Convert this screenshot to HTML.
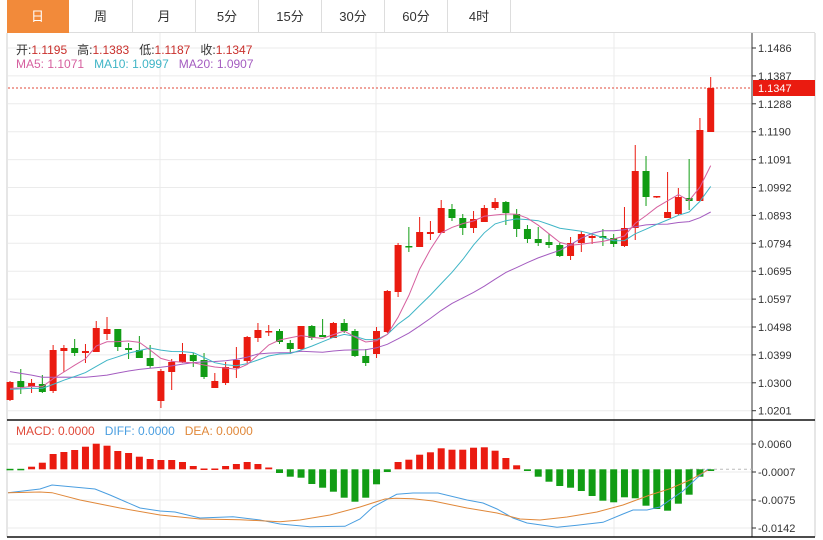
<!DOCTYPE html>
<html><head><meta charset="utf-8">
<style>
html,body{margin:0;padding:0;background:#fff;width:823px;height:540px;overflow:hidden;font-family:"Liberation Sans","Noto Sans CJK SC",sans-serif;}
#wrap{position:relative;width:823px;height:540px;}
.tab{position:absolute;top:0;height:33px;line-height:33px;text-align:center;font-size:13px;color:#333;border-right:1px solid #ddd;border-bottom:1px solid #ddd;box-sizing:border-box;}
.info{position:absolute;left:16px;font-size:12px;white-space:nowrap;}
</style></head><body><div id="wrap">
<div class="tab" style="left:7px;width:62px;background:#f28a3a;color:#fff;border-color:#f28a3a">日</div>
<div class="tab" style="left:69px;width:64px">周</div>
<div class="tab" style="left:133px;width:63px">月</div>
<div class="tab" style="left:196px;width:63px">5分</div>
<div class="tab" style="left:259px;width:63px">15分</div>
<div class="tab" style="left:322px;width:63px">30分</div>
<div class="tab" style="left:385px;width:63px">60分</div>
<div class="tab" style="left:448px;width:63px">4时</div>
<div style="position:absolute;left:511px;top:32px;width:304px;border-top:1px solid #ddd"></div>
<svg id="s" width="823" height="540" style="position:absolute;left:0;top:0"></svg>
<div class="info" style="top:41px;color:#333">开:<span style="color:#c9302c">1.1195</span>&nbsp;&nbsp; 高:<span style="color:#c9302c">1.1383</span>&nbsp;&nbsp; 低:<span style="color:#c9302c">1.1187</span>&nbsp;&nbsp; 收:<span style="color:#c9302c">1.1347</span></div>
<div class="info" style="top:57px"><span style="color:#d6609f">MA5: 1.1071</span>&nbsp;&nbsp; <span style="color:#3fb5c6">MA10: 1.0997</span>&nbsp;&nbsp; <span style="color:#a45cc0">MA20: 1.0907</span></div>
<div class="info" style="top:424px;font-size:12px"><span style="color:#e04a3a">MACD: 0.0000</span>&nbsp;&nbsp; <span style="color:#4a9ee0">DIFF: 0.0000</span>&nbsp;&nbsp; <span style="color:#e0883a">DEA: 0.0000</span></div>
</div>
<script>
var s=document.getElementById('s');var h='';
function L(x1,y1,x2,y2,c,w,d){h+='<line x1="'+x1+'" y1="'+y1+'" x2="'+x2+'" y2="'+y2+'" stroke="'+c+'" stroke-width="'+(w||1)+'"'+(d?' stroke-dasharray="'+d+'"':'')+'/>';}
function T(x,y,t,c,sz){h+='<text x="'+x+'" y="'+y+'" fill="'+(c||'#333')+'" font-size="'+(sz||11)+'" font-family="Liberation Sans,sans-serif">'+t+'</text>';}
var labs=['1.1486','1.1387','1.1288','1.1190','1.1091','1.0992','1.0893','1.0794','1.0695','1.0597','1.0498','1.0399','1.0300','1.0201'];
for(var i=0;i<labs.length;i++){var y=48+i*27.9;L(8,y,752,y,'#ebebeb');L(752,y,756,y,'#333');if(i!=1)T(758,y+4,labs[i]);}
T(758,80,labs[1]);
[444,472,500,528].forEach(function(y,i){L(8,y,752,y,'#ebebeb');L(752,y,756,y,'#333');T(758,y+4,['0.0060','-0.0007','-0.0075','-0.0142'][i]);});
[160,376,614].forEach(function(x){L(x,33,x,537,'#ebebeb');});
L(7,33,7,537,'#ccc');L(815,33,815,537,'#ccc');
L(752,33,752,537,'#333');L(7,420,815,420,'#111',1.5);L(7,537,815,537,'#111',1.5);
var C=[['r',382,400,381,401],['g',381,387,369,394],['r',383,387,379,393],['g',384,392,375,393],['r',350,391,345,393],['r',348,351,345,372],['g',348,353,339,356],['r',351,353,344,363],['r',328,352,321,352],['r',329,334,317,340],['g',329,347,329,351],['g',348,350,343,359],['g',350,358,336,358],['g',358,366,345,368],['r',371,401,369,408],['r',362,372,359,390],['r',354,362,343,363],['g',355,361,353,367],['g',360,377,353,379],['r',381,388,373,388],['r',367,383,362,385],['r',360,368,347,378],['r',337,361,336,363],['r',330,338,323,342],['r',331,332,325,336],['g',331,342,329,344],['g',343,349,340,354],['r',326,349,326,350],['g',326,338,325,340],['g',335,337,319,337],['r',323,338,322,338],['g',323,331,319,333],['g',331,356,329,357],['g',356,363,349,366],['r',331,354,327,358],['r',291,332,290,333],['r',245,292,243,297],['g',246,247,227,252],['r',232,247,217,247],['r',232,234,221,240],['r',208,233,200,233],['g',209,218,204,221],['g',218,228,214,235],['r',219,228,211,233],['r',208,222,205,222],['r',202,208,198,210],['g',202,213,201,225],['g',214,229,209,237],['g',229,239,225,243],['g',239,243,227,246],['g',242,245,234,248],['g',245,256,243,257],['r',243,256,237,260],['r',234,243,231,252],['r',236,238,233,244],['g',236,238,229,246],['g',238,244,234,247],['r',228,246,207,247],['r',171,228,145,240],['g',171,197,156,206],['r',196,197,196,198],['r',212,218,172,218],['r',197,214,188,215],['g',198,201,159,210],['r',130,201,118,201],['r',88,132,77,132]];
var R='#ea1b10',G='#119c14';
function X(i){return 10+i*10.78;}
var cl=[];for(i=0;i<10;i++)cl.push(350);for(i=0;i<10;i++)cl.push(390);
C.forEach(function(c){cl.push(c[0]=='r'?c[1]:c[2]);});
function ma(n,col){var p=[];for(var i=0;i<C.length;i++){var k=i+20,sm=0;for(var j=0;j<n;j++)sm+=cl[k-j];p.push(X(i).toFixed(1)+','+(sm/n).toFixed(1));}h+='<polyline points="'+p.join(' ')+'" fill="none" stroke="'+col+'" stroke-width="1"/>';}
L(8,88,752,88,'#e0483a',1,'2,2');
C.forEach(function(c,i){var x=X(i),col=c[0]=='r'?R:G;L(x,c[3],x,c[4],col);var hh=Math.max(c[2]-c[1],1.5);h+='<rect x="'+(x-3.5)+'" y="'+c[1]+'" width="7" height="'+hh+'" fill="'+col+'"/>';});
ma(20,'#a45cc0');ma(10,'#3fb5c6');ma(5,'#d6609f');
h+='<rect x="753" y="80" width="62" height="16" fill="#ea1b10"/>';T(758,92,'1.1347','#fff');
var M=[469,469,466.7,462.7,454,452,450,446.7,443.7,445.7,451,453,456.7,459,460,460,462,466,468.5,468.5,466,464,462,464,467.5,473,476.7,477.7,484,487.7,491.7,497.7,501.7,497.7,484.3,472,462,459.7,454.7,452.3,448.3,449.7,449.7,447.7,447.3,450.7,458,465.3,471,476.7,481.7,486,487.7,491,496,500.7,502.3,497.3,498.3,505.7,509,510.7,503.7,494.7,476.7,471];
L(690,469.3,752,469.3,'#bbb',1,'3,3');
M.forEach(function(v,i){var x=X(i),z=469.3;if(i<2){h+='<rect x="'+(x-3.5)+'" y="'+(z-0.5)+'" width="7" height="1.5" fill="'+G+'"/>';return;}var col=v<z?R:G;var y=Math.min(v,z),hh=Math.max(Math.abs(v-z),1.5);h+='<rect x="'+(x-3.5)+'" y="'+y+'" width="7" height="'+hh+'" fill="'+col+'"/>';});
h+='<polyline fill="none" stroke="#4a9ee0" stroke-width="1" points="8,492.7 40,489 52,485 95,489 110,495 140,508 160,511 175,512 200,518 233,516.7 260,520 280,524 310,526.7 345,526.3 360,519 373,507 396.7,494.3 413,493 438,493 467,500 483,503 497,509 513,518 527,523 557,527.3 577,525.3 603,522.3 623,514 633,510 647,510 660,507 670,500 683,491 697,478 708,469"/>';
h+='<polyline fill="none" stroke="#e0883a" stroke-width="1" points="8,492.7 40,492 52,492.7 80,500 120,508 160,515 200,519 240,519.7 280,521.7 300,520 330,515 360,507 385,499 396,498.3 413,498.7 433,501 467,508 497,513 520,519 540,520 567,517 597,512 623,505 650,495 670,488.7 690,480 708,470"/>';
s.innerHTML=h;
</script>
</body></html>
